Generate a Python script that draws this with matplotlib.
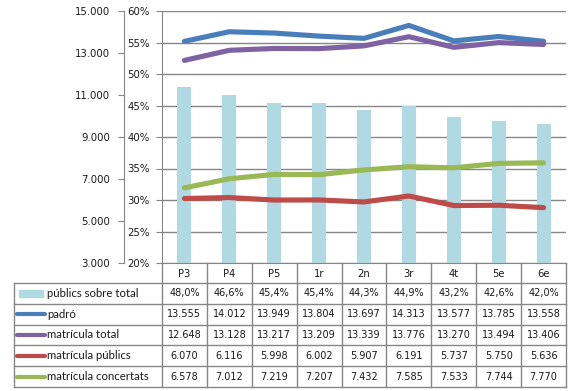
import numpy as np
import matplotlib
matplotlib.use("Agg")
import matplotlib.pyplot as plt
from matplotlib.lines import Line2D
from matplotlib.patches import Rectangle

# data
cursos = ["P3", "P4", "P5", "1r", "2n", "3r", "4t", "5e", "6e"]
publics_sobre_total = [0.480, 0.466, 0.454, 0.454, 0.443, 0.449, 0.432, 0.426, 0.420]
padro = [13555, 14012, 13949, 13804, 13697, 14313, 13577, 13785, 13558]
matricula_total = [12648, 13128, 13217, 13209, 13339, 13776, 13270, 13494, 13406]
matricula_publics = [6070, 6116, 5998, 6002, 5907, 6191, 5737, 5750, 5636]
matricula_concertats = [6578, 7012, 7219, 7207, 7432, 7585, 7533, 7744, 7770]

W, H = 575, 391
grey = "#868686"
txt = "#1a1a1a"
c_bar = "#b1d9e3"
lines = [
    ("padró", padro, "#4a7ebb"),
    ("matrícula total", matricula_total, "#7f62a1"),
    ("matrícula públics", matricula_publics, "#be4b48"),
    ("matrícula concertats", matricula_concertats, "#98b954"),
]

def miles(v):
    return f"{v:,.0f}".replace(",", ".")

def pct(v):
    return f"{v*100:.1f}%".replace(".", ",")

fig = plt.figure(figsize=(W / 100, H / 100), dpi=100)

# plot area in pixels
px0, px1, py0, py1 = 162, 566, 11, 263
ax = fig.add_axes([px0 / W, 1 - py1 / H, (px1 - px0) / W, (py1 - py0) / H])
x = np.arange(len(cursos))
ax.bar(x, publics_sobre_total, width=0.31, color=c_bar, zorder=2)
ax.set_xlim(-0.5, len(cursos) - 0.5)
ax.set_ylim(0.2, 0.6)
pticks = np.arange(0.2, 0.61, 0.05)
ax.set_yticks(pticks)
ax.set_yticklabels([f"{int(round(t*100))}%" for t in pticks])
ax.set_xticks([])
ax.grid(axis="y", color=grey, lw=1, zorder=0)
for s in ["top", "right"]:
    ax.spines[s].set_visible(False)
for s in ["left", "bottom"]:
    ax.spines[s].set_color(grey)
ax.tick_params(axis="y", length=4, color=grey, labelsize=7.3, pad=5, labelcolor=txt)

ax2 = ax.twinx()
for lab, vals, col in lines:
    ax2.plot(x, vals, color=col, lw=3.7, solid_capstyle="round", zorder=3)
ax2.set_ylim(3000, 15000)
nticks = np.arange(3000, 15001, 2000)
ax2.set_yticks(nticks)
ax2.set_yticklabels([miles(t) for t in nticks])
ax2.yaxis.set_ticks_position("left")
ax2.yaxis.set_label_position("left")
ax2.spines["left"].set_position(("outward", 38 * 0.72))
ax2.spines["left"].set_color(grey)
for s in ["top", "right", "bottom"]:
    ax2.spines[s].set_visible(False)
ax2.tick_params(axis="y", length=4, color=grey, labelsize=7.3, pad=6, labelcolor=txt)

# data table
ov = fig.add_axes([0, 0, 1, 1])
ov.set_xlim(0, W)
ov.set_ylim(H, 0)
ov.axis("off")
cw = (px1 - px0) / len(cursos)
tx0 = 14
rows_top = 283
rh = 20.8
nrows = 5
tb = rows_top + nrows * rh
for k in range(len(cursos) + 1):
    xx = px0 + k * cw
    ov.add_line(Line2D([xx, xx], [py1, tb], color=grey, lw=1))
ov.add_line(Line2D([tx0, tx0], [rows_top, tb], color=grey, lw=1))
for r in range(nrows + 1):
    yy = rows_top + r * rh
    ov.add_line(Line2D([tx0, px1], [yy, yy], color=grey, lw=1))
for i, c in enumerate(cursos):
    ov.text(px0 + (i + 0.5) * cw, (py1 + rows_top) / 2 + 1, c, ha="center", va="center",
            fontsize=7.2, color=txt)

table_rows = [("públics sobre total", [pct(v) for v in publics_sobre_total], None)]
for lab, vals, col in lines:
    table_rows.append((lab, [miles(v) for v in vals], col))
for r, (lab, vals, col) in enumerate(table_rows):
    yc = rows_top + (r + 0.5) * rh
    if col is None:
        ov.add_patch(Rectangle((19, yc - 3.5), 24, 7, color=c_bar))
    else:
        ov.add_line(Line2D([17, 45], [yc, yc], color=col, lw=3.0, solid_capstyle="round"))
    ov.text(47, yc, lab, ha="left", va="center", fontsize=8.2, family="Lato", color=txt)
    for i, v in enumerate(vals):
        ov.text(px0 + (i + 0.5) * cw, yc, v, ha="center", va="center", fontsize=7,
                color=txt)

fig.savefig("out.png", dpi=100)
